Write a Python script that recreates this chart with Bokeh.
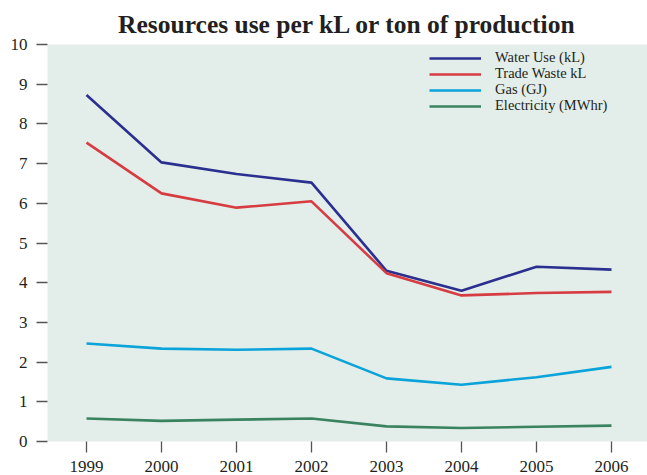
from bokeh.plotting import figure
from bokeh.models import Range1d, FixedTicker, Legend, LegendItem
from bokeh.embed import file_html
from bokeh.resources import INLINE

years = [1999, 2000, 2001, 2002, 2003, 2004, 2005, 2006]
water_use = [8.73, 7.03, 6.74, 6.52, 4.30, 3.80, 4.40, 4.33]
trade_waste = [7.53, 6.25, 5.89, 6.05, 4.24, 3.68, 3.74, 3.77]
gas = [2.47, 2.34, 2.31, 2.34, 1.59, 1.43, 1.62, 1.88]
electricity = [0.58, 0.52, 0.55, 0.58, 0.38, 0.34, 0.37, 0.40]

series_names = ["Water Use (kL)", "Trade Waste kL", "Gas (GJ)", "Electricity (MWhr)"]
series_colors = ["#2b2f8f", "#d63c42", "#0aa3da", "#3a8360"]
y_ticks = [0, 1, 2, 3, 4, 5, 6, 7, 8, 9, 10]

FONT = "Liberation Serif"

p = figure(width=647, height=475, output_backend="svg", toolbar_location=None,
           x_range=Range1d(1998.48, 2006.48), y_range=Range1d(0, 10),
           min_border_left=47, min_border_right=0, min_border_top=44, min_border_bottom=34)

p.title.text = "Resources use per kL or ton of production"
p.title.align = "center"
p.title.text_font = FONT
p.title.text_font_size = "25.5px"
p.title.text_font_style = "bold"
p.title.text_color = "#231f20"
p.title.offset = 0
p.title.standoff = 11

p.background_fill_color = "#e3ede9"
p.border_fill_color = "white"
p.outline_line_color = None
p.xgrid.grid_line_color = None
p.ygrid.grid_line_color = None

renderers = []
for vals, c in zip([water_use, trade_waste, gas, electricity], series_colors):
    r = p.line(years, vals, line_color=c, line_width=2.6)
    renderers.append(r)

row_centers = [58, 74, 90, 106]
for name, r, yc in zip(series_names, renderers, row_centers):
    h = 16
    lg = Legend(items=[LegendItem(label=name, renderers=[r])],
                location=(382, 441 - (yc + h / 2)), background_fill_alpha=0, border_line_color=None,
                padding=0, margin=0, spacing=0, glyph_width=52, glyph_height=h,
                label_height=h, label_standoff=14,
                label_text_font=FONT, label_text_font_size="14.5px", label_text_color="#231f20")
    p.add_layout(lg, "center")

for ax in (p.xaxis[0], p.yaxis[0]):
    ax.axis_line_color = None
    ax.major_tick_line_color = "#555555"
    ax.major_tick_line_width = 1.3
    ax.minor_tick_line_color = None
    ax.major_tick_in = 0
    ax.major_label_text_font = FONT
    ax.major_label_text_font_size = "17px"
    ax.major_label_text_color = "#231f20"

p.yaxis[0].ticker = FixedTicker(ticks=y_ticks)
p.yaxis[0].major_tick_out = 11
p.yaxis[0].major_label_standoff = 9
p.xaxis[0].ticker = FixedTicker(ticks=years)
p.xaxis[0].major_tick_out = 11
p.xaxis[0].major_label_standoff = 8

open("out.html", "w").write(file_html(p, INLINE))
